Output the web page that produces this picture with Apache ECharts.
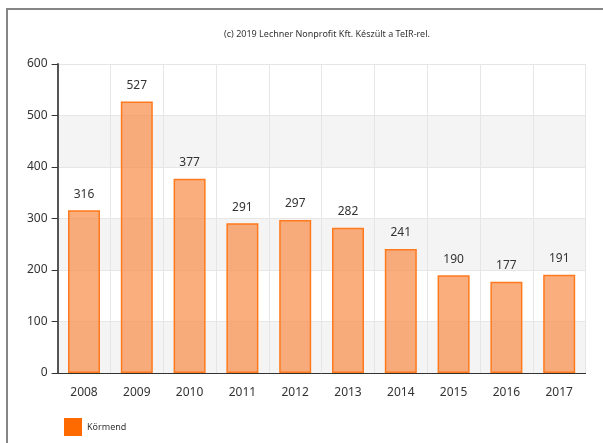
<!DOCTYPE html>
<html>
<head>
<meta charset="utf-8">
<script src="https://cdn.jsdelivr.net/npm/echarts@6/dist/echarts.min.js"></script>
<style>
html, body { margin: 0; padding: 0; background: #fff; }
#frame { position: absolute; left: 6px; top: 8px; width: 620px; height: 460px;
  border-left: 2px solid #858585; border-top: 2px solid #858585; }
#chart { position: absolute; left: 0; top: 0; width: 603px; height: 443px; }
</style>
</head>
<body>
<div id="frame"></div>
<div id="chart"></div>
<script>
const years = ['2008', '2009', '2010', '2011', '2012', '2013', '2014', '2015', '2016', '2017']
const kormend = [316, 527, 377, 291, 297, 282, 241, 190, 177, 191]
const seriesName = 'Körmend'
const titleText = '(c) 2019 Lechner Nonprofit Kft. Készült a TeIR-rel.'

const font = 'Noto Sans, Tahoma, sans-serif'
const chart = echarts.init(document.getElementById('chart'), null, { renderer: 'canvas' })

chart.setOption({
    animation: false,
    title: {
        text: titleText,
        left: 322,
        top: 25,
        textAlign: 'center',
        textStyle: { fontSize: 9, fontWeight: 'normal', color: '#333', fontFamily: font }
    },
    legend: {
        left: 59,
        top: 413,
        itemWidth: 18,
        itemHeight: 18,
        itemGap: 4,
        icon: 'rect',
        data: [{ name: seriesName, itemStyle: { color: '#ff6a00', borderWidth: 0 } }],
        textStyle: { fontSize: 9, color: '#333', fontFamily: font }
    },
    grid: {
        left: 57.6,
        right: 17.4,
        top: 64,
        bottom: 70
    },
    xAxis: {
        type: 'category',
        data: years,
        axisLine: { lineStyle: { color: '#333', width: 1 } },
        axisTick: { alignWithLabel: true, length: 5, lineStyle: { color: '#333' } },
        axisLabel: { fontSize: 12, color: '#333', margin: 14, fontFamily: font },
        splitLine: { show: true, interval: 0, lineStyle: { color: '#e6e6e6' } }
    },
    yAxis: {
        type: 'value',
        min: 0,
        max: 600,
        interval: 100,
        axisLine: { show: true, lineStyle: { color: '#555', width: 2 } },
        axisTick: { show: true, length: 6, lineStyle: { color: '#333' } },
        axisLabel: { fontSize: 12, color: '#333', margin: 10, fontFamily: font },
        splitLine: { lineStyle: { color: '#e6e6e6' } },
        splitArea: { show: true, areaStyle: { color: ['#f4f4f4', '#ffffff'] } }
    },
    series: [{
        name: seriesName,
        type: 'bar',
        data: kormend,
        barWidth: 32,
        itemStyle: {
            color: 'rgba(250, 140, 70, 0.7)',
            borderColor: '#ff7a1e',
            borderWidth: 1.5
        },
        label: {
            show: true,
            position: 'top',
            distance: 10,
            fontSize: 12,
            color: '#333',
            fontFamily: font
        }
    }]
})
</script>
</body>
</html>
